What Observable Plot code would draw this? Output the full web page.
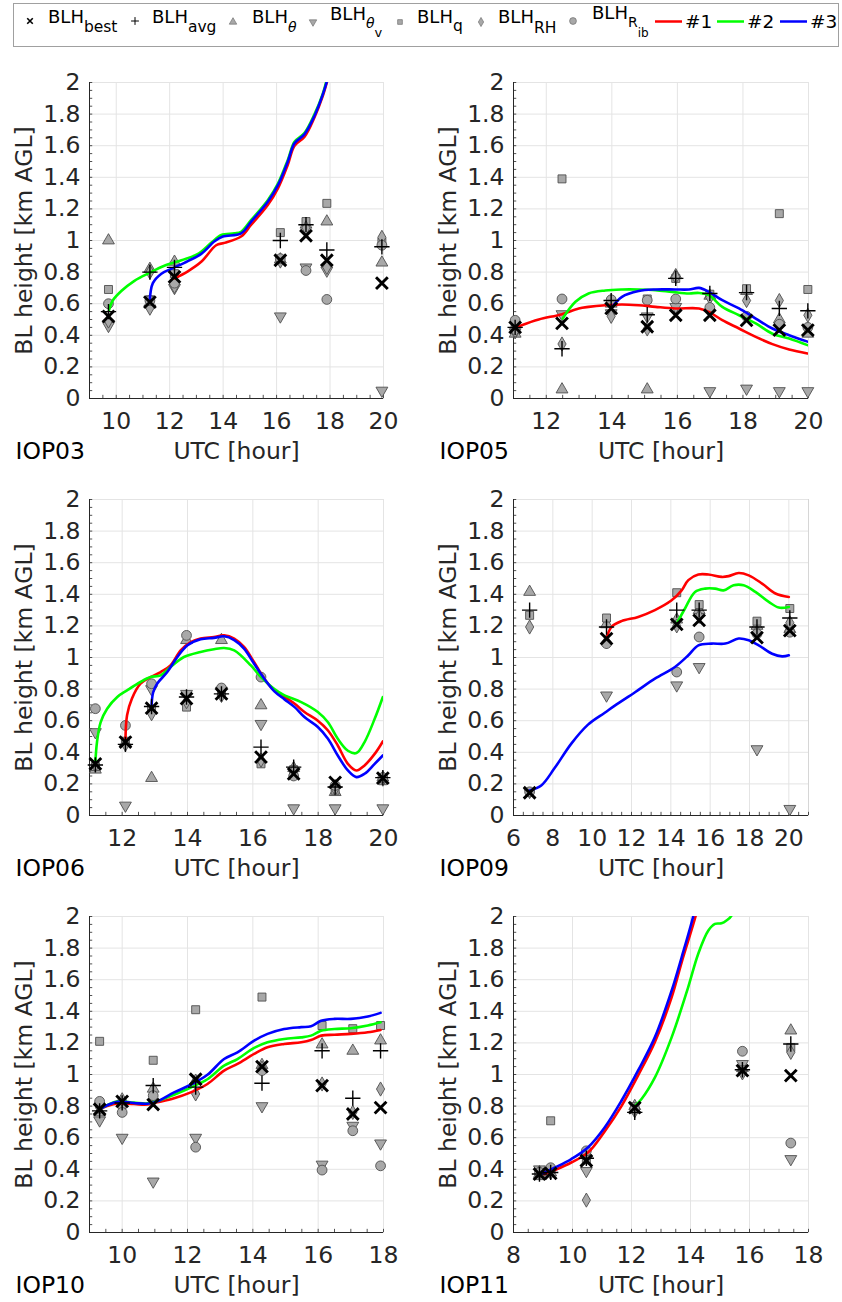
<!DOCTYPE html>
<html><head><meta charset="utf-8">
<script src="https://cdn.jsdelivr.net/npm/d3@7"></script>
<script src="https://cdn.jsdelivr.net/npm/@observablehq/plot@0.6"></script>
<style>
body{margin:0;background:#fff;font-family:"DejaVu Sans",sans-serif;width:842px;overflow:hidden;}
#legend{height:60px;}
#legend svg{display:block}
#grid{display:grid;grid-template-columns:421px 421px;}
#grid svg{display:block}
</style></head><body>
<div id="legend"></div>
<div id="grid"></div>
<script>
// ---------- shared ticks ----------
const yTicks = [0, 0.2, 0.4, 0.6, 0.8, 1, 1.2, 1.4, 1.6, 1.8, 2];
const runColors = ["#ff0000", "#00ff00", "#0000ff"];
const runNames = ["#1", "#2", "#3"];

// ---------- IOP03 ----------
const IOP03_xTicks = [10, 12, 14, 16, 18, 20];
const IOP03_t      = [9.71, 11.26, 12.18, 16.14, 17.10, 17.88, 19.94];
const IOP03_best   = [0.52, 0.61, 0.77, 0.875, 1.03, 0.875, 0.73];
const IOP03_avg    = [0.55, 0.80, 0.83, 1.00, 1.10, 0.94, 0.96];
const IOP03_theta  = [1.00, 0.82, 0.865, 0.88, 1.10, 1.12, 0.86];
const IOP03_thetav = [0.46, 0.57, 0.70, 0.52, 0.83, 0.81, 0.05];
const IOP03_q      = [0.69, 0.625, 0.79, 1.05, 1.12, 1.235, 0.99];
const IOP03_rh     = [0.49, 0.80, 0.71, 0.87, 1.08, 0.83, 1.02];
const IOP03_rib    = [0.60, 0.62, 0.73, 0.885, 0.81, 0.627, 0.97];
const IOP03_run1 = [[12.18,0.76],[12.68,0.805],[13.18,0.865],[13.74,0.97],[14.05,0.985],[14.67,1.025],[15.05,1.1],[15.67,1.225],[16.05,1.33],[16.42,1.48],[16.67,1.6],[17.04,1.655],[17.42,1.78],[17.73,1.915],[17.88,2.0],[17.98,2.06]];
const IOP03_run2 = [[9.73,0.56],[9.87,0.62],[10.19,0.68],[10.68,0.745],[11.24,0.795],[11.8,0.84],[12.44,0.875],[13.06,0.915],[13.55,0.985],[13.93,1.035],[14.42,1.045],[14.67,1.055],[15.05,1.13],[15.67,1.255],[16.05,1.36],[16.42,1.51],[16.67,1.625],[17.04,1.68],[17.42,1.80],[17.73,1.93],[17.85,2.0],[17.95,2.06]];
const IOP03_run3 = [[11.25,0.61],[11.37,0.73],[11.69,0.79],[12.12,0.825],[12.68,0.87],[13.18,0.915],[13.68,0.995],[13.99,1.025],[14.67,1.045],[15.05,1.12],[15.67,1.245],[16.05,1.35],[16.42,1.50],[16.67,1.615],[17.04,1.672],[17.42,1.79],[17.73,1.925],[17.87,2.0],[17.97,2.06]];

// ---------- IOP05 ----------
const IOP05_xTicks = [12, 14, 16, 18, 20];
const IOP05_t      = [11.05, 12.48, 13.98, 15.08, 15.95, 16.99, 18.11, 19.11, 19.98];
const IOP05_best   = [0.45, 0.475, 0.57, 0.454, 0.527, 0.527, 0.495, 0.433, 0.433];
const IOP05_avg    = [0.45, 0.315, 0.62, 0.53, 0.76, 0.665, 0.67, 0.57, 0.555];
const IOP05_theta  = [0.41, 0.057, 0.60, 0.057, 0.78, 0.65, 0.68, 0.50, 0.41];
const IOP05_thetav = [0.42, 0.534, 0.54, 0.52, 0.58, 0.047, 0.063, 0.047, 0.047];
const IOP05_q      = [0.44, 1.39, 0.61, 0.63, 0.76, 0.66, 0.695, 1.17, 0.69];
const IOP05_rh     = [0.43, 0.345, 0.52, 0.44, 0.77, 0.64, 0.62, 0.62, 0.527];
const IOP05_rib    = [0.495, 0.63, 0.625, 0.622, 0.63, 0.576, 0.52, 0.47, 0.45];
const IOP05_run1 = [[11.0,0.443],[11.25,0.464],[11.77,0.5],[12.48,0.534],[12.99,0.57],[13.29,0.58],[13.8,0.59],[14.31,0.595],[14.82,0.59],[15.33,0.58],[15.94,0.57],[16.66,0.57],[16.96,0.548],[17.37,0.496],[17.88,0.443],[18.39,0.39],[18.9,0.344],[19.41,0.31],[19.97,0.285]];
const IOP05_run2 = [[12.5,0.506],[12.89,0.612],[13.29,0.665],[13.8,0.684],[14.31,0.69],[14.82,0.69],[15.33,0.686],[15.84,0.675],[16.35,0.665],[16.66,0.668],[16.96,0.654],[17.37,0.58],[17.88,0.527],[18.39,0.475],[18.9,0.41],[19.41,0.38],[19.97,0.338]];
const IOP05_run3 = [[14.0,0.575],[14.31,0.643],[14.82,0.68],[15.33,0.69],[15.94,0.69],[16.35,0.69],[16.66,0.70],[16.96,0.675],[17.37,0.622],[17.88,0.57],[18.39,0.506],[18.9,0.443],[19.41,0.40],[19.97,0.36]];

// ---------- IOP06 ----------
const IOP06_xTicks = [12, 14, 16, 18, 20];
const IOP06_t      = [11.18, 12.10, 12.90, 13.97, 15.04, 16.25, 17.25, 18.52, 19.98];
const IOP06_best   = [0.327, 0.465, 0.68, 0.74, 0.77, 0.37, 0.264, 0.21, 0.237];
const IOP06_avg    = [0.32, 0.45, 0.69, 0.75, 0.77, 0.433, 0.306, 0.18, 0.24];
const IOP06_theta  = [0.29, 0.46, 0.237, 1.11, 1.11, 0.697, 0.30, 0.148, 0.24];
const IOP06_thetav = [0.528, 0.063, 0.80, 0.77, 0.79, 0.58, 0.046, 0.046, 0.046];
const IOP06_q      = [0.31, 0.47, 0.67, 0.686, 0.78, 0.327, 0.29, 0.16, 0.22];
const IOP06_rh     = [0.32, 0.45, 0.644, 0.72, 0.76, 0.35, 0.28, 0.17, 0.23];
const IOP06_rib    = [0.676, 0.57, 0.834, 1.14, 0.807, 0.876, 0.25, 0.19, 0.24];
const IOP06_run1 = [[12.1,0.475],[12.15,0.634],[12.3,0.74],[12.56,0.834],[12.87,0.876],[13.18,0.908],[13.48,0.95],[13.79,1.045],[14.1,1.098],[14.4,1.12],[14.81,1.13],[15.12,1.14],[15.43,1.12],[15.73,1.067],[16.04,0.97],[16.35,0.866],[16.66,0.792],[16.97,0.75],[17.28,0.707],[17.58,0.655],[17.99,0.60],[18.3,0.538],[18.6,0.443],[18.91,0.327],[19.17,0.285],[19.42,0.317],[19.73,0.39],[19.98,0.469]];
const IOP06_run2 = [[11.18,0.338],[11.23,0.465],[11.34,0.59],[11.54,0.676],[11.85,0.75],[12.15,0.792],[12.56,0.845],[12.87,0.876],[13.18,0.887],[13.48,0.94],[13.89,1.003],[14.4,1.035],[14.81,1.052],[15.12,1.06],[15.43,1.045],[15.94,0.95],[16.25,0.876],[16.66,0.80],[16.97,0.76],[17.48,0.718],[17.99,0.655],[18.3,0.59],[18.6,0.486],[18.91,0.41],[19.17,0.395],[19.42,0.465],[19.73,0.612],[19.98,0.75]];
const IOP06_run3 = [[12.9,0.697],[12.95,0.78],[13.07,0.834],[13.38,0.908],[13.69,1.003],[14.0,1.077],[14.4,1.115],[14.81,1.124],[15.12,1.134],[15.43,1.11],[15.73,1.056],[16.04,0.96],[16.35,0.866],[16.66,0.786],[16.97,0.735],[17.28,0.686],[17.58,0.623],[17.99,0.56],[18.3,0.486],[18.6,0.38],[18.91,0.285],[19.17,0.243],[19.42,0.264],[19.73,0.327],[19.98,0.38]];

// ---------- IOP09 ----------
const IOP09_xTicks = [6, 8, 10, 12, 14, 16, 18, 20];
const IOP09_t      = [6.82, 10.73, 14.30, 15.44, 18.38, 20.05];
const IOP09_best   = [0.144, 1.12, 1.21, 1.235, 1.126, 1.17];
const IOP09_avg    = [1.30, 1.193, 1.30, 1.30, 1.193, 1.25];
const IOP09_theta  = [1.415, 1.21, 1.24, 1.30, 1.20, 1.18];
const IOP09_thetav = [0.15, 0.76, 0.824, 0.94, 0.42, 0.042];
const IOP09_q      = [1.267, 1.25, 1.41, 1.335, 1.23, 1.31];
const IOP09_rh     = [1.193, 1.10, 1.20, 1.26, 1.16, 1.22];
const IOP09_rib    = [0.15, 1.088, 0.908, 1.13, 1.15, 1.16];
const IOP09_run1 = [[10.73,1.12],[10.98,1.193],[11.49,1.23],[12.34,1.257],[13.19,1.3],[14.04,1.362],[14.55,1.425],[14.89,1.49],[15.4,1.525],[15.91,1.525],[16.6,1.51],[16.94,1.515],[17.45,1.535],[17.96,1.52],[18.64,1.468],[19.32,1.405],[20.0,1.383]];
const IOP09_run2 = [[14.3,1.214],[14.72,1.31],[15.23,1.415],[15.74,1.436],[16.25,1.436],[16.68,1.425],[17.19,1.457],[17.7,1.457],[18.3,1.415],[18.98,1.352],[19.49,1.316],[20.0,1.32]];
const IOP09_run3 = [[6.82,0.158],[7.41,0.19],[8.09,0.3],[8.94,0.455],[9.79,0.575],[10.64,0.65],[11.15,0.695],[12.18,0.78],[13.19,0.866],[14.21,0.94],[14.89,1.014],[15.4,1.077],[16.08,1.088],[16.77,1.088],[17.45,1.12],[17.96,1.109],[18.47,1.077],[19.15,1.024],[19.66,1.007],[20.0,1.014]];

// ---------- IOP10 ----------
const IOP10_xTicks = [10, 12, 14, 16, 18];
const IOP10_t      = [9.31, 10.00, 10.95, 12.25, 14.28, 16.12, 17.06, 17.91];
const IOP10_best   = [0.78, 0.83, 0.81, 0.97, 1.05, 0.93, 0.75, 0.79];
const IOP10_avg    = [0.77, 0.82, 0.93, 0.92, 0.945, 1.15, 0.85, 1.15];
const IOP10_theta  = [0.76, 0.82, 0.91, 0.96, 1.06, 1.19, 1.15, 1.215];
const IOP10_thetav = [0.71, 0.60, 0.323, 0.60, 0.80, 0.43, 0.676, 0.564];
const IOP10_q      = [1.21, 0.81, 1.09, 1.41, 1.49, 1.31, 1.29, 1.31];
const IOP10_rh     = [0.79, 0.84, 0.84, 0.877, 1.04, 0.94, 0.76, 0.908];
const IOP10_rib    = [0.83, 0.76, 0.866, 0.54, 1.025, 0.395, 0.644, 0.422];
const IOP10_run1 = [[9.31,0.78],[9.54,0.80],[9.85,0.817],[10.36,0.813],[10.77,0.81],[11.07,0.824],[11.59,0.85],[12.1,0.887],[12.61,0.94],[13.12,1.024],[13.53,1.067],[14.04,1.13],[14.45,1.172],[14.96,1.193],[15.48,1.204],[15.78,1.218],[16.09,1.246],[16.5,1.252],[17.0,1.257],[17.52,1.267],[17.91,1.282]];
const IOP10_run2 = [[9.31,0.78],[9.54,0.805],[9.85,0.83],[10.36,0.822],[10.77,0.817],[11.07,0.83],[11.59,0.872],[12.1,0.918],[12.61,0.97],[13.12,1.056],[13.53,1.098],[14.04,1.168],[14.45,1.204],[14.96,1.225],[15.48,1.235],[15.78,1.246],[16.09,1.277],[16.5,1.288],[17.0,1.293],[17.52,1.31],[17.91,1.33]];
const IOP10_run3 = [[9.31,0.78],[9.54,0.805],[9.85,0.828],[10.36,0.82],[10.77,0.815],[11.07,0.83],[11.59,0.887],[12.1,0.935],[12.61,0.998],[13.12,1.098],[13.53,1.14],[14.04,1.214],[14.45,1.257],[14.96,1.288],[15.48,1.30],[15.78,1.305],[16.09,1.34],[16.5,1.352],[17.0,1.352],[17.52,1.367],[17.91,1.39]];

// ---------- IOP11 ----------
const IOP11_xTicks = [8, 10, 12, 14, 16, 18];
const IOP11_t      = [8.88, 9.26, 10.47, 12.11, 15.76, 17.40];
const IOP11_best   = [0.37, 0.374, 0.454, 0.79, 1.024, 0.993];
const IOP11_avg    = [0.37, 0.38, 0.47, 0.76, 1.03, 1.193];
const IOP11_theta  = [0.37, 0.38, 0.50, 0.80, 1.04, 1.278];
const IOP11_thetav = [0.40, 0.38, 0.39, 0.80, 1.067, 0.465];
const IOP11_q      = [0.36, 0.707, 0.46, 0.78, 1.03, 1.17];
const IOP11_rh     = [0.38, 0.38, 0.205, 0.77, 1.01, 1.14];
const IOP11_rib    = [0.38, 0.41, 0.517, 0.78, 1.147, 0.566];
const IOP11_run1 = [[9.05,0.37],[9.39,0.395],[9.96,0.443],[10.53,0.507],[11.09,0.64],[11.66,0.80],[12.22,0.993],[12.79,1.204],[13.36,1.488],[13.7,1.71],[14.17,2.0],[14.3,2.1]];
const IOP11_run2 = [[12.11,0.80],[12.34,0.845],[12.79,0.98],[13.36,1.235],[13.92,1.552],[14.26,1.763],[14.6,1.91],[14.83,1.953],[15.05,1.957],[15.22,1.975],[15.39,2.006],[15.5,2.1]];
const IOP11_run3 = [[8.98,0.374],[9.39,0.41],[9.96,0.465],[10.53,0.54],[11.09,0.665],[11.66,0.834],[12.22,1.024],[12.79,1.235],[13.36,1.53],[13.7,1.742],[14.09,2.0],[14.2,2.1]];

const panels = [
  {name:"IOP03", x:[9,20],  xTicks:IOP03_xTicks, t:IOP03_t, best:IOP03_best, avg:IOP03_avg, theta:IOP03_theta, thetav:IOP03_thetav, q:IOP03_q, rh:IOP03_rh, rib:IOP03_rib, runs:[IOP03_run1,IOP03_run2,IOP03_run3]},
  {name:"IOP05", x:[11,20], xTicks:IOP05_xTicks, t:IOP05_t, best:IOP05_best, avg:IOP05_avg, theta:IOP05_theta, thetav:IOP05_thetav, q:IOP05_q, rh:IOP05_rh, rib:IOP05_rib, runs:[IOP05_run1,IOP05_run2,IOP05_run3]},
  {name:"IOP06", x:[11,20], xTicks:IOP06_xTicks, t:IOP06_t, best:IOP06_best, avg:IOP06_avg, theta:IOP06_theta, thetav:IOP06_thetav, q:IOP06_q, rh:IOP06_rh, rib:IOP06_rib, runs:[IOP06_run1,IOP06_run2,IOP06_run3]},
  {name:"IOP09", x:[6,21],  xTicks:IOP09_xTicks, t:IOP09_t, best:IOP09_best, avg:IOP09_avg, theta:IOP09_theta, thetav:IOP09_thetav, q:IOP09_q, rh:IOP09_rh, rib:IOP09_rib, runs:[IOP09_run1,IOP09_run2,IOP09_run3]},
  {name:"IOP10", x:[9,18],  xTicks:IOP10_xTicks, t:IOP10_t, best:IOP10_best, avg:IOP10_avg, theta:IOP10_theta, thetav:IOP10_thetav, q:IOP10_q, rh:IOP10_rh, rib:IOP10_rib, runs:[IOP10_run1,IOP10_run2,IOP10_run3]},
  {name:"IOP11", x:[8,18],  xTicks:IOP11_xTicks, t:IOP11_t, best:IOP11_best, avg:IOP11_avg, theta:IOP11_theta, thetav:IOP11_thetav, q:IOP11_q, rh:IOP11_rh, rib:IOP11_rib, runs:[IOP11_run1,IOP11_run2,IOP11_run3]},
];

const FONT = "DejaVu Sans";
const INK = "#262626";
const gray = {fill: "#a8a8a8", stroke: "#4f4f4f", strokeWidth: 0.9};

function makePanel(p, col) {
  const rows = arr => p.t.map((t, i) => ({t, v: arr[i]})).filter(d => d.v != null);
  const [x0, x1] = p.x;
  const minorX = d3.range(Math.ceil(x0 * 2), Math.floor(x1 * 2) + 1).map(i => i / 2);
  const minorY = d3.range(0, 41).map(i => i * 0.05);
  const tickLen = (x1 - x0) * 0.011;
  const xy = {x: "t", y: "v"};
  const marks = [
    Plot.frame({stroke: "#d6d6d6"}),
    Plot.gridX(p.xTicks, {stroke: "#e4e4e4", strokeOpacity: 1}),
    Plot.gridY(yTicks, {stroke: "#e4e4e4", strokeOpacity: 1}),
    Plot.ruleX(minorX, {y1: 0, y2: 0.02, stroke: INK, strokeWidth: 0.8}),
    Plot.ruleY(minorY, {x1: x0, x2: x0 + tickLen, stroke: INK, strokeWidth: 0.8}),
    Plot.ruleY([0], {stroke: INK, strokeWidth: 1}),
    Plot.ruleX([x0], {stroke: INK, strokeWidth: 1}),
    Plot.axisX({ticks: p.xTicks, tickSize: 0, tickPadding: 14, fontSize: 23.5, label: null, fill: INK}),
    Plot.axisY({ticks: yTicks, tickSize: 0, tickPadding: 9, fontSize: 23.5, label: null, fill: INK, tickFormat: d => String(+d.toFixed(1))}),
    // grey single-method estimates
    Plot.dot(rows(p.theta),  {...xy, symbol: "triangle", r: 4.4, ...gray}),
    Plot.dot(rows(p.thetav), {...xy, symbol: "triangle", rotate: 180, r: 4.4, ...gray}),
    Plot.dot(rows(p.q),      {...xy, symbol: "square", r: 4.5, ...gray}),
    Plot.dot(rows(p.rh),     {...xy, symbol: "diamond", r: 4.3, ...gray}),
    Plot.dot(rows(p.rib),    {...xy, symbol: "circle", r: 4.9, ...gray}),
    // model runs
    ...p.runs.map((run, k) => Plot.line(run, {x: d => d[0], y: d => d[1], stroke: runColors[k], strokeWidth: 2.6, curve: "catmull-rom", clip: true})),
    // best and average
    Plot.dot(rows(p.avg),  {...xy, symbol: "plus", r: 5.0, stroke: "#000", strokeWidth: 1.4}),
    Plot.dot(rows(p.best), {...xy, symbol: "times", r: 5.4, stroke: "#000", strokeWidth: 2.9}),
    // labels
    Plot.text(["UTC [hour]"], {frameAnchor: "bottom", dy: 60, lineAnchor: "bottom", fontSize: 23.5, fill: INK}),
    Plot.text([p.name], {frameAnchor: "bottom-left", dx: -74, dy: 60, lineAnchor: "bottom", textAnchor: "start", fontSize: 23.5, fill: "#000"}),
    Plot.text(["BL height [km AGL]"], {frameAnchor: "left", dx: -58, rotate: -90, lineAnchor: "bottom", textAnchor: "middle", fontSize: 23.5, fill: INK}),
  ];
  return Plot.plot({
    width: 421, height: 417,
    marginTop: 22, marginBottom: 79,
    marginLeft: col === 0 ? 89 : 92,
    marginRight: col === 0 ? 38 : 34,
    x: {domain: p.x},
    y: {domain: [0, 2]},
    style: {fontFamily: FONT, fontSize: "23px", color: INK, background: "white", overflow: "visible"},
    marks
  });
}

const grid = document.getElementById("grid");
panels.forEach((p, i) => grid.appendChild(makePanel(p, i % 2)));

// ---------- legend ----------
const sym = (type, size) => d3.symbol(type, size)();
const g = (x, y, inner) => `<g transform="translate(${x},${y})">${inner}</g>`;
const grayAttr = `fill="#a8a8a8" stroke="#707070" stroke-width="0.7"`;
const T = (x, y, main, subs) => {
  let s = `<text x="${x}" y="${y}" font-size="18" fill="#000">${main}`;
  for (const [txt, dy, fs, italic] of subs) s += `<tspan dy="${dy}" font-size="${fs}"${italic ? ' font-style="italic"' : ''}>${txt}</tspan>`;
  return s + `</text>`;
};
const legendItems = [
  g(30, 21, `<path d="${sym(d3.symbolTimes, 22)}" stroke="#000" stroke-width="1.6" fill="none"/>`),
  T(48, 23, "BLH", [["best", 9, 15.5]]),
  g(135, 21, `<path d="${sym(d3.symbolPlus, 22)}" stroke="#000" stroke-width="1" fill="none"/>`),
  T(152, 23, "BLH", [["avg", 9, 15.5]]),
  g(233, 22, `<path d="${sym(d3.symbolTriangle, 24)}" ${grayAttr}/>`),
  T(252, 23, "BLH", [["θ", 9, 14, true]]),
  g(313, 22, `<path transform="rotate(180)" d="${sym(d3.symbolTriangle, 24)}" ${grayAttr}/>`),
  T(330, 20, "BLH", [["θ", 8, 14, true], ["v", 9, 13]]),
  g(400, 22, `<path d="${sym(d3.symbolSquare, 22)}" ${grayAttr}/>`),
  T(417, 23, "BLH", [["q", 8, 15.5]]),
  g(481, 22, `<path d="${sym(d3.symbolDiamond, 24)}" ${grayAttr}/>`),
  T(498, 23, "BLH", [["RH", 10, 15.5]]),
  g(573, 21, `<circle r="3.4" ${grayAttr}/>`),
  T(592, 19, "BLH", [["R", 8, 14], ["ib", 10, 12]]),
  ...runColors.map((c, k) => {
    const x = [655, 717, 780][k];
    return `<line x1="${x}" x2="${x + 27}" y1="21.5" y2="21.5" stroke="${c}" stroke-width="2.5"/>` +
      `<text x="${x + 30}" y="28" font-size="18.5" fill="#000">${runNames[k]}</text>`;
  })
];
document.getElementById("legend").innerHTML =
  `<svg width="842" height="60" font-family="${FONT}">
    <rect x="13.5" y="3.5" width="825" height="43" fill="#fff" stroke="#a0a0a0" stroke-width="1"/>
    ${legendItems.join("")}
  </svg>`;
</script></body></html>
